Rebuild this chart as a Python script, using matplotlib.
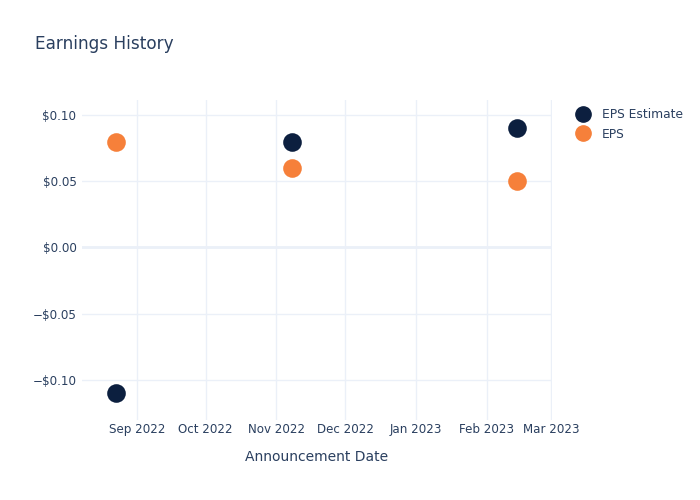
import matplotlib.pyplot as plt
import matplotlib.dates as mdates
import matplotlib.ticker as mticker
import pandas as pd
from matplotlib.lines import Line2D

plt.rcParams['font.family'] = ['DejaVu Sans']

# data
dates = pd.to_datetime(['2022-08-23', '2022-11-08', '2023-02-14'])
eps_estimate = [-0.11, 0.08, 0.09]
eps = [0.08, 0.06, 0.05]

navy = '#0c1f3f'
orange = '#f6803a'
txt = '#2a3f5f'
grid = '#ebf0f8'

fig = plt.figure(figsize=(7, 5), dpi=100)
ax = fig.add_axes([82 / 700, 80 / 500, 470 / 700, 320 / 500])

ax.scatter(dates, eps_estimate, s=180, color=navy, zorder=3, linewidths=0)
ax.scatter(dates, eps, s=180, color=orange, zorder=3, linewidths=0)

ax.set_xlim(pd.Timestamp('2022-08-08'), pd.Timestamp('2023-03-01 12:00'))
ax.set_ylim(-0.1305, 0.1115)

ax.xaxis.set_major_locator(mdates.MonthLocator())
ax.xaxis.set_major_formatter(mdates.DateFormatter('%b %Y'))
ax.yaxis.set_major_locator(mticker.MultipleLocator(0.05))
ax.yaxis.set_major_formatter(mticker.FuncFormatter(
    lambda v, p: ('\u2212$%.2f' % abs(v)) if v < -1e-9 else '$%.2f' % abs(v)))

ax.grid(True, color=grid, linewidth=1)
ax.axhline(0, color=grid, linewidth=2, zorder=1)
ax.set_axisbelow(True)
for s in ax.spines.values():
    s.set_visible(False)
ax.tick_params(axis='x', length=0, colors=txt, labelsize=8.6, pad=2)
ax.tick_params(axis='y', length=0, colors=txt, labelsize=8.6, pad=4)

ax.set_xlabel('Announcement Date', color=txt, fontsize=10, labelpad=10)
fig.text(35 / 700, 1 - 44 / 500, 'Earnings History', color=txt, fontsize=12.2, va='center')

handles = [Line2D([], [], marker='o', linestyle='', markersize=11, color=navy, label='EPS Estimate'),
           Line2D([], [], marker='o', linestyle='', markersize=11, color=orange, label='EPS')]
fig.legend(handles=handles, loc='upper left', bbox_to_anchor=(575 / 700, 1 - 108 / 500),
           frameon=False, fontsize=8.8, labelcolor=txt, handletextpad=0.9,
           labelspacing=0.55, borderaxespad=0, borderpad=0, handlelength=1.3)

fig.savefig('out.png', dpi=100)
